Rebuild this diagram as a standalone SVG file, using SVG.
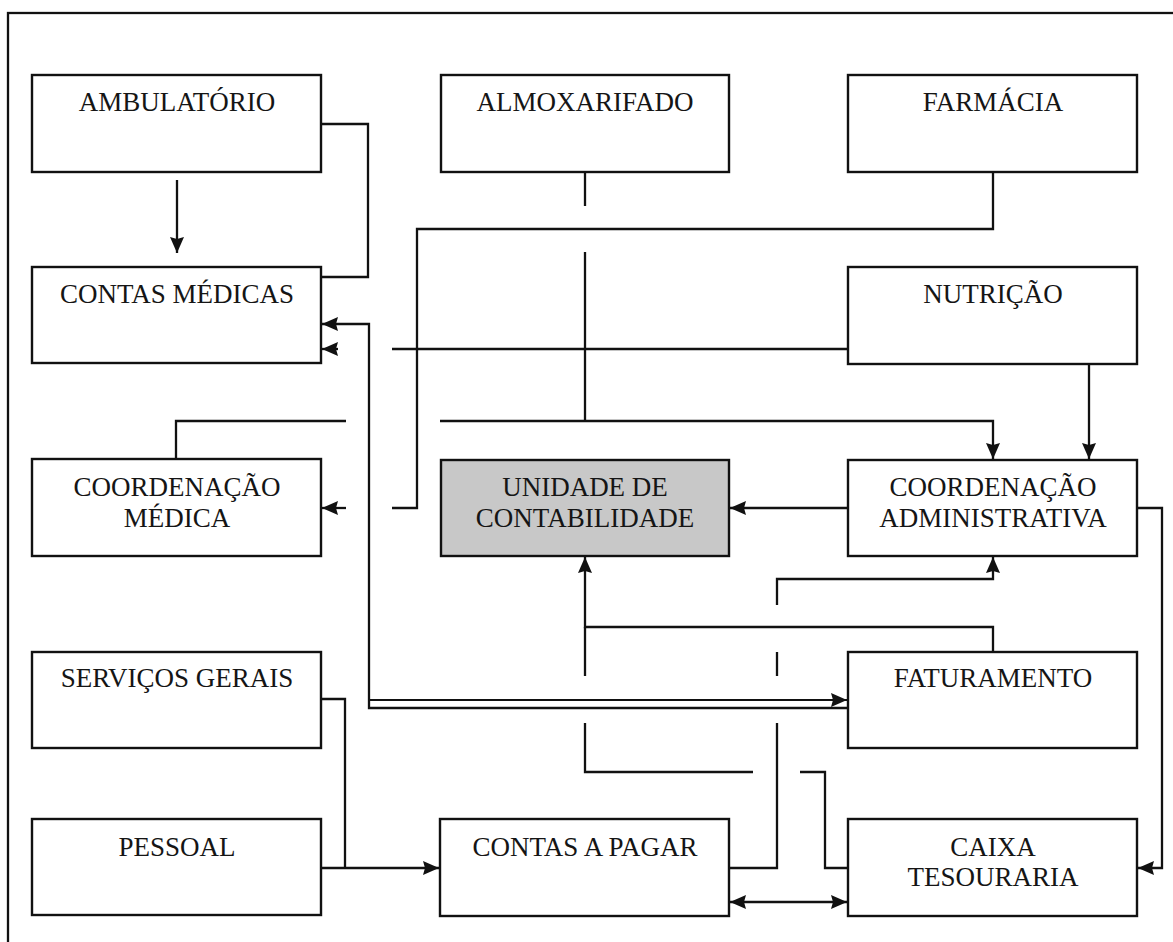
<svg xmlns="http://www.w3.org/2000/svg" width="1173" height="942" viewBox="0 0 1173 942">
  <style>
    .box { fill: #ffffff; stroke: #111111; stroke-width: 2.4; }
    .box.hl { fill: #c8c8c8; }
    .lbl { font-family: "Liberation Serif", "Times New Roman", serif; font-size: 27px; fill: #151515; text-anchor: middle; }
    .ln { fill: none; stroke: #111111; stroke-width: 2.3; }
    .arr { marker-end: url(#head); }
  </style>
  <defs>
    <marker id="head" viewBox="0 0 16 14" refX="16" refY="7" markerWidth="16" markerHeight="14" markerUnits="userSpaceOnUse" orient="auto">
      <path d="M0,0 L16,7 L0,14 L2,7 z" fill="#111111"/>
    </marker>
    <marker id="tail" viewBox="0 0 16 14" refX="0" refY="7" markerWidth="16" markerHeight="14" markerUnits="userSpaceOnUse" orient="auto">
      <path d="M16,0 L0,7 L16,14 L14,7 z" fill="#111111"/>
    </marker>
  </defs>

  <rect width="1173" height="942" fill="#ffffff"/>
  <!-- page frame -->
  <rect x="8" y="13" width="1200" height="1000" fill="none" stroke="#111111" stroke-width="2.3"/>

  <!-- connectors -->
  <g id="connectors">
    <line class="ln arr" x1="177" y1="180" x2="177" y2="253"/>
    <polyline class="ln" points="321,124 368,124 368,277 321,277"/>
    <polyline class="ln arr" points="848,708 369,708 369,324 322,324"/>
    <line class="ln arr" x1="370" y1="700" x2="847" y2="700" style="stroke-width:1.8"/>
    <line class="ln" x1="848" y1="349" x2="392" y2="349"/>
    <line class="ln arr" x1="338" y1="349" x2="322" y2="349"/>
    <polyline class="ln" points="993,171 993,229 417,229 417,508 392,508"/>
    <line class="ln arr" x1="346" y1="508" x2="322" y2="508"/>
    <line class="ln" x1="585" y1="172" x2="585" y2="206"/>
    <line class="ln" x1="585" y1="252" x2="585" y2="421"/>
    <polyline class="ln" points="176,459 176,421 346,421"/>
    <polyline class="ln arr" points="440,421 993,421 993,459"/>
    <line class="ln arr" x1="1089" y1="364" x2="1089" y2="459"/>
    <line class="ln arr" x1="848" y1="508" x2="730" y2="508"/>
    <polyline class="ln arr" points="1138,508 1162,508 1162,868 1138,868"/>
    <polyline class="ln arr" points="993,652 993,627 585,627 585,557"/>
    <line class="ln" x1="585" y1="676" x2="585" y2="627"/>
    <polyline class="ln" points="848,868 825,868 825,772 800,772"/>
    <polyline class="ln" points="753,772 585,772 585,723"/>
    <polyline class="ln" points="729,868 777,868 777,723"/>
    <line class="ln" x1="777" y1="676" x2="777" y2="652"/>
    <polyline class="ln arr" points="777,605 777,579 993,579 993,557"/>
    <line class="ln arr" x1="730" y1="902" x2="847" y2="902" marker-start="url(#tail)"/>
    <polyline class="ln" points="321,699 345,699 345,868"/>
    <line class="ln arr" x1="321" y1="868" x2="439" y2="868"/>
  </g>

  <g id="ambulatorio">
    <rect class="box" x="32" y="75" width="289" height="97"/>
    <text class="lbl" x="177" y="111">AMBULATÓRIO</text>
  </g>
  <g id="almoxarifado">
    <rect class="box" x="441" y="75" width="288" height="97"/>
    <text class="lbl" x="585" y="111">ALMOXARIFADO</text>
  </g>
  <g id="farmacia">
    <rect class="box" x="848" y="75" width="289" height="97"/>
    <text class="lbl" x="993" y="111">FARMÁCIA</text>
  </g>
  <g id="contas-medicas">
    <rect class="box" x="32" y="267" width="289" height="96"/>
    <text class="lbl" x="177" y="303">CONTAS MÉDICAS</text>
  </g>
  <g id="nutricao">
    <rect class="box" x="848" y="267" width="289" height="97"/>
    <text class="lbl" x="993" y="303">NUTRIÇÃO</text>
  </g>
  <g id="coordenacao-medica">
    <rect class="box" x="32" y="459" width="289" height="97"/>
    <text class="lbl" x="177" y="496">COORDENAÇÃO</text>
    <text class="lbl" x="177" y="527">MÉDICA</text>
  </g>
  <g id="unidade-contabilidade">
    <rect class="box hl" x="441" y="460" width="288" height="96"/>
    <text class="lbl" x="585" y="496">UNIDADE DE</text>
    <text class="lbl" x="585" y="527">CONTABILIDADE</text>
  </g>
  <g id="coordenacao-administrativa">
    <rect class="box" x="848" y="460" width="289" height="96"/>
    <text class="lbl" x="993" y="496">COORDENAÇÃO</text>
    <text class="lbl" x="993" y="527">ADMINISTRATIVA</text>
  </g>
  <g id="servicos-gerais">
    <rect class="box" x="32" y="652" width="289" height="96"/>
    <text class="lbl" x="177" y="687">SERVIÇOS GERAIS</text>
  </g>
  <g id="faturamento">
    <rect class="box" x="848" y="652" width="289" height="96"/>
    <text class="lbl" x="993" y="687">FATURAMENTO</text>
  </g>
  <g id="pessoal">
    <rect class="box" x="32" y="819" width="289" height="96"/>
    <text class="lbl" x="177" y="856">PESSOAL</text>
  </g>
  <g id="contas-a-pagar">
    <rect class="box" x="440" y="819" width="289" height="97"/>
    <text class="lbl" x="585" y="856">CONTAS A PAGAR</text>
  </g>
  <g id="caixa-tesouraria">
    <rect class="box" x="848" y="819" width="289" height="97"/>
    <text class="lbl" x="993" y="856">CAIXA</text>
    <text class="lbl" x="993" y="886">TESOURARIA</text>
  </g>
</svg>
